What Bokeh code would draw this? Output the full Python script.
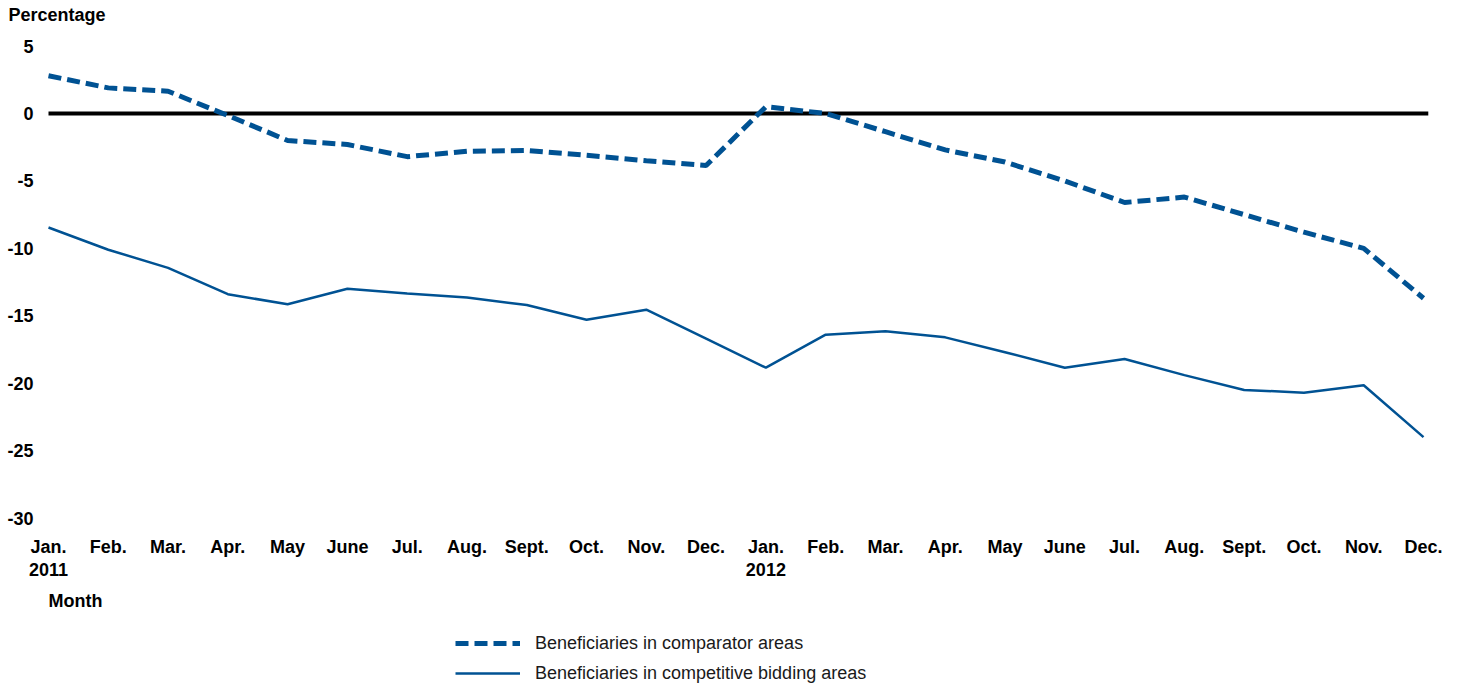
from bokeh.plotting import figure
from bokeh.models import Range1d, FixedTicker, Legend, LegendItem, Label
from bokeh.embed import file_html
from bokeh.resources import INLINE

months = ["Jan.\n2011", "Feb.", "Mar.", "Apr.", "May", "June", "Jul.", "Aug.",
          "Sept.", "Oct.", "Nov.", "Dec.",
          "Jan.\n2012", "Feb.", "Mar.", "Apr.", "May", "June", "Jul.", "Aug.",
          "Sept.", "Oct.", "Nov.", "Dec."]
comparator = [2.8, 1.9, 1.65, -0.15, -2.0, -2.3, -3.2, -2.8, -2.75, -3.1, -3.5, -3.85,
              0.5, 0.0, -1.35, -2.7, -3.6, -5.0, -6.6, -6.2, -7.5, -8.8, -10.0, -13.7]
competitive = [-8.45, -10.1, -11.45, -13.4, -14.15, -13.0, -13.35, -13.65, -14.2, -15.3,
               -14.55, -16.7, -18.85, -16.4, -16.15, -16.6, -17.7, -18.85, -18.2, -19.4,
               -20.5, -20.7, -20.15, -24.0]
y_ticks = [5, 0, -5, -10, -15, -20, -25, -30]

FONT = "Liberation Sans"
BLUE = "#005293"
W, H = 1457, 685
x = list(range(len(months)))

# pixel geometry of the plotting area
px_per_x = (1423 - 48) / (len(months) - 1)
px_per_y = (518 - 46) / (y_ticks[0] - y_ticks[-1])
x0 = -48 / px_per_x
y1 = 113 / px_per_y
p = figure(width=W, height=H, output_backend="svg", toolbar_location=None,
           x_range=Range1d(x0, x0 + W / px_per_x),
           y_range=Range1d(y1 - H / px_per_y, y1),
           min_border=0)
p.outline_line_color = None
p.xgrid.visible = False
p.ygrid.visible = False

# zero reference line
p.segment(x0=[x[0]], y0=[0], x1=[x[-1] + 0.08], y1=[0], line_color="black", line_width=4)

r1 = p.line(x, comparator, line_color=BLUE, line_width=5, line_dash="13 6")
r2 = p.line(x, competitive, line_color=BLUE, line_width=2.5)

for ax in (p.xaxis[0], p.yaxis[0]):
    ax.axis_line_color = None
    ax.major_tick_line_color = None
    ax.minor_tick_line_color = None
    ax.major_tick_out = 0
    ax.major_tick_in = 0
    ax.major_label_text_font = FONT
    ax.major_label_text_font_size = "18px"
    ax.major_label_text_font_style = "bold"
    ax.major_label_text_color = "black"

p.yaxis.fixed_location = x[0]
p.yaxis.ticker = FixedTicker(ticks=y_ticks)
p.yaxis.major_label_overrides = {t: str(t) for t in y_ticks}
p.yaxis.major_label_standoff = 15
p.xaxis.fixed_location = y_ticks[-1]
p.xaxis.ticker = FixedTicker(ticks=x)
p.xaxis.major_label_overrides = {i: m for i, m in enumerate(months)}
p.xaxis.major_label_standoff = 19
p.xaxis.major_label_text_line_height = 1.15

p.add_layout(Label(x=x0 + 8 / px_per_x, y=y1 - 14 / px_per_y, text="Percentage",
                   text_font=FONT, text_font_size="18px", text_font_style="bold",
                   text_color="black", text_baseline="middle", text_align="left"))
p.add_layout(Label(x=x[0], y=y1 - 600 / px_per_y, text="Month",
                   text_font=FONT, text_font_size="18px", text_font_style="bold",
                   text_color="black", text_baseline="middle", text_align="left"))

legend = Legend(items=[LegendItem(label="Beneficiaries in comparator areas", renderers=[r1]),
                       LegendItem(label="Beneficiaries in competitive bidding areas", renderers=[r2])],
                orientation="vertical", location=(455, 0), padding=0, margin=0,
                border_line_color=None, background_fill_alpha=0,
                glyph_width=65, glyph_height=24, label_height=24, spacing=6,
                label_standoff=15, label_text_font=FONT, label_text_font_size="18px",
                label_text_color="#1a1a1a")
p.add_layout(legend)

open("out.html", "w").write(file_html(p, INLINE))
